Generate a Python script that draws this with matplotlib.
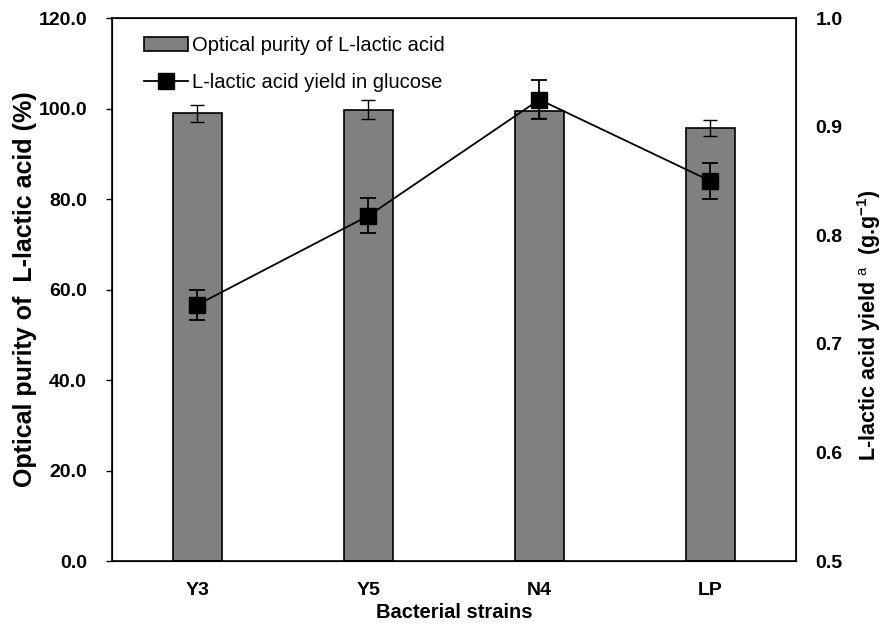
import matplotlib.pyplot as plt
from matplotlib.lines import Line2D
import numpy as np

plt.rcParams['font.family'] = ['Liberation Sans', 'DejaVu Sans']
plt.rcParams['mathtext.fontset'] = 'custom'
plt.rcParams['mathtext.rm'] = 'Liberation Sans'
plt.rcParams['mathtext.bf'] = 'Liberation Sans:bold'

strains = ['Y3', 'Y5', 'N4', 'LP']
purity = [99.0, 99.7, 99.4, 95.7]
purity_err = [1.9, 2.1, 1.5, 1.8]
yield_glc = [0.736, 0.818, 0.925, 0.850]
yield_err = [0.014, 0.016, 0.018, 0.017]

fig = plt.figure(figsize=(8.81, 6.26), dpi=100)
ax = fig.add_axes([0.127, 0.1038, 0.7765, 0.8672])
x = np.arange(len(strains))

bars = ax.bar(x, purity, width=0.287, color='#808080', edgecolor='black', linewidth=1.2,
              yerr=purity_err, error_kw=dict(ecolor='black', elinewidth=1, capsize=5, capthick=1),
              zorder=2)
ax.set_xlim(-0.5, 3.5)
ax.set_ylim(0, 120)
ax.set_yticks(np.arange(0, 121, 20))
ax.set_yticklabels([f'{v:.1f}' for v in np.arange(0, 121, 20)], fontsize=14, fontweight='bold')
ax.set_xticks(x)
ax.set_xticklabels(strains, fontsize=14, fontweight='bold')
ax.tick_params(axis='x', length=0, pad=15)
ax.tick_params(axis='y', direction='out', length=4, width=1, pad=14)
ax.set_xlabel('Bacterial strains', fontsize=14.5, fontweight='bold', labelpad=3)
ax.set_ylabel('Optical purity of  L-lactic acid (%)', fontsize=18, fontweight='bold', labelpad=1)
for s in ax.spines.values():
    s.set_linewidth(1.2)

ax2 = ax.twinx()
ax2.errorbar(x, yield_glc, yerr=yield_err, color='black', linewidth=1.3, marker='s',
             markersize=11, ecolor='black', elinewidth=1.3, capsize=6, capthick=1.3, zorder=3)
ax2.set_ylim(0.5, 1.0)
ax2.set_yticks(np.arange(0.5, 1.01, 0.1))
ax2.set_yticklabels([f'{v:.1f}' for v in np.arange(0.5, 1.01, 0.1)], fontsize=14, fontweight='bold')
ax2.tick_params(axis='y', length=0, pad=14)
ax2.set_ylabel(r'L-lactic acid yield $^{\mathrm{a}}$  (g.g$^{\mathbf{-1}}$)', fontsize=15.5,
               fontweight='bold')
ax2.yaxis.set_label_coords(1.086, 0.435)

line_handle = Line2D([], [], color='black', linewidth=1.3, marker='s', markersize=11)
ax2.legend([bars, line_handle],
           ['Optical purity of L-lactic acid', 'L-lactic acid yield in glucose'],
           loc='upper left', bbox_to_anchor=(0.02, 1.0), frameon=False,
           fontsize=14.5, handlelength=2.2, handletextpad=0.2, labelspacing=0.9)

fig.savefig('out.png', dpi=100)
